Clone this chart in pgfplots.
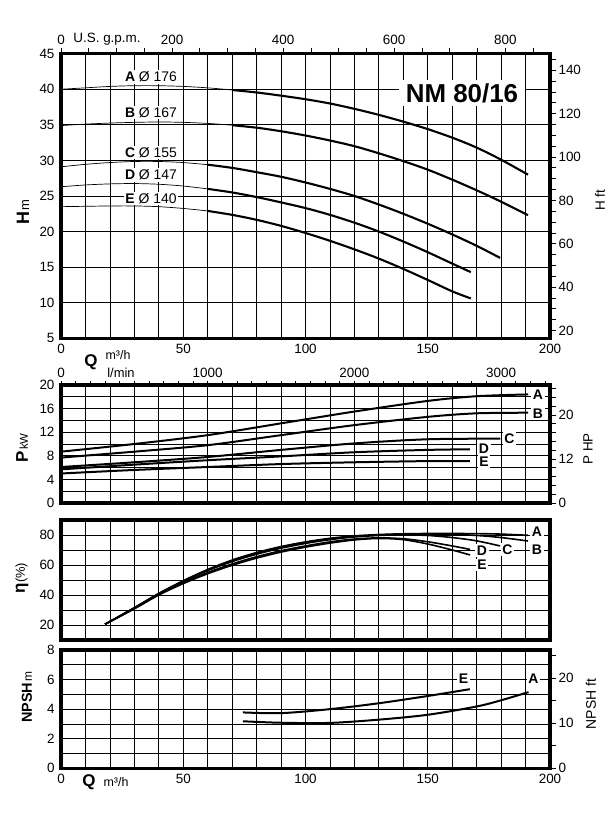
\documentclass[border=0pt]{standalone}
\usepackage{fontspec}
\setmainfont{Liberation Sans}
\usepackage{pgfplots}
\pgfplotsset{compat=1.18}
\newcommand{\fs}[1]{\fontsize{#1}{#1}\selectfont}
\tikzset{lab/.style={fill=white, inner sep=1.5bp, font=\fs{14}}}
\begin{document}
\begin{tikzpicture}[x=1bp,y=1bp]
\path[use as bounding box] (0,0) rectangle (614,829);
\coordinate (pH) at (61,490.7);
\coordinate (pP) at (61,326);
\coordinate (pE) at (61,189);
\coordinate (pN) at (61,60.7);
\pgfplotsset{
  base/.style={scale only axis, width=489bp, xmin=0, xmax=200, anchor=south west,
    scaled ticks=false, /pgf/number format/assume math mode=true,
    ticklabel style={font=\fs{13.5}}},
  main/.style={base, axis line style={line width=3.5bp}, xtick={0,10,...,200},
    grid=major, major grid style={black, line width=0.8bp}, major tick length=0pt,
    yticklabel style={xshift=-3bp}, xticklabel style={yshift=-2bp}},
  ov/.style={base, tick align=outside, major tick length=6bp, tick style={black, line width=0.8bp}},
  ovr/.style={ov, axis y line*=right, axis x line=none, yticklabel style={xshift=-1bp}},
  cv/.style={black, line width=2.1bp, smooth, mark=none},
  tn/.style={black, line width=0.7bp, smooth, mark=none},
  nox/.style={xticklabel style={text opacity=0, opacity=0}},
}
% ---------------- H panel
\begin{axis}[main, at={(pH)}, height=284.6bp, ymin=5, ymax=45, ytick={5,10,...,45},
  xticklabels={0,,,,,50,,,,,100,,,,,150,,,,,200}]
\addplot[tn] coordinates {(0,40.0)(10,40.2)(20,40.4)(30,40.5)(40,40.5)(50,40.4)(60,40.2)(70,39.9)};
\addplot[cv] coordinates {(70,39.9)(80,39.55)(90,39.1)(100,38.6)(110,38.0)(120,37.25)(130,36.4)(140,35.45)(150,34.4)(160,33.2)(170,31.8)(180,30.1)(191,28.0)};
\addplot[tn] coordinates {(0,34.9)(10,35.1)(20,35.25)(30,35.35)(40,35.4)(50,35.35)(60,35.2)(70,34.95)};
\addplot[cv] coordinates {(70,34.95)(80,34.6)(90,34.1)(100,33.5)(110,32.8)(120,32.0)(130,31.0)(140,29.9)(150,28.7)(160,27.3)(170,25.8)(180,24.2)(191,22.3)};
\addplot[tn] coordinates {(0,29.1)(10,29.45)(20,29.7)(30,29.85)(40,29.85)(50,29.7)(60,29.4)};
\addplot[cv] coordinates {(60,29.4)(70,28.95)(80,28.35)(90,27.7)(100,26.9)(110,26.0)(120,25.0)(130,23.8)(140,22.5)(150,21.1)(160,19.6)(170,18.0)(179.6,16.3)};
\addplot[tn] coordinates {(0,26.3)(10,26.55)(20,26.7)(30,26.75)(40,26.65)(50,26.4)(60,26.0)};
\addplot[cv] coordinates {(60,26.0)(70,25.5)(80,24.85)(90,24.1)(100,23.3)(110,22.35)(120,21.25)(130,20.0)(140,18.6)(150,17.1)(160,15.5)(167.6,14.3)};
\addplot[tn] coordinates {(0,23.5)(10,23.55)(20,23.6)(30,23.6)(40,23.5)(50,23.25)(60,22.9)};
\addplot[cv] coordinates {(60,22.9)(70,22.35)(80,21.65)(90,20.8)(100,19.8)(110,18.7)(120,17.5)(130,16.2)(140,14.75)(150,13.2)(160,11.6)(167.6,10.6)};
\end{axis}
\begin{axis}[ov, at={(pH)}, height=284.6bp, xmin=0, xmax=880.57, ymin=0, ymax=1,
  axis x line*=top, axis y line=none, xtick={0,50,...,850},
  xticklabels={0,,,,200,,,,400,,,,600,,,,800,}]
\end{axis}
\begin{axis}[ovr, at={(pH)}, height=284.6bp, ymin=16.404, ymax=147.64,
  ytick={20,25,...,145},
  yticklabels={20,,,,40,,,,60,,,,80,,,,100,,,,120,,,,140,}]
\end{axis}
% ---------------- P panel
\begin{axis}[main, nox, at={(pP)}, height=118bp, ymin=0, ymax=20, ytick={0,2,...,20},
  yticklabels={0,,4,,8,,12,,16,,20}]
\addplot[cv,line width=2bp] coordinates {(0,8.7)(30,10.0)(60,11.5)(90,13.5)(120,15.5)(150,17.3)(170,18.1)(191,18.4)};
\addplot[cv,line width=2bp] coordinates {(0,7.7)(30,8.7)(60,9.8)(90,11.5)(120,13.2)(150,14.6)(170,15.2)(191,15.3)};
\addplot[cv,line width=2bp] coordinates {(0,6.1)(30,6.9)(60,7.8)(90,9.0)(120,10.1)(150,10.8)(179.7,10.9)};
\addplot[cv,line width=2bp] coordinates {(0,5.7)(30,6.5)(60,7.25)(90,7.9)(120,8.6)(150,9.0)(167.2,9.1)};
\addplot[cv,line width=2bp] coordinates {(0,5.0)(30,5.6)(60,6.1)(90,6.6)(120,6.9)(150,7.1)(167.2,7.1)};
\end{axis}
\begin{axis}[ov, at={(pP)}, height=118bp, xmin=0, xmax=3333.33, ymin=0, ymax=1,
  axis x line*=top, axis y line=none, xtick={0,100,...,3300}, major tick length=4bp,
  xticklabels={0,,,,,,,,,,1000,,,,,,,,,,2000,,,,,,,,,,3000,,,}]
\end{axis}
\begin{axis}[ovr, at={(pP)}, height=118bp, ymin=0, ymax=26.82,
  ytick={0,2,...,26},
  yticklabels={0,,,,,12,,,,,20,,,}]
\end{axis}
% ---------------- eta panel
\begin{axis}[main, nox, at={(pE)}, height=120bp, ymin=10, ymax=90, ytick={10,20,...,90},
  yticklabels={,20,,40,,60,,80,}]
\addplot[cv,line width=1.6bp] coordinates {(18,20.5)(30,31.5)(40,41)(50,49.5)(60,57)(70,63.3)(80,68.3)(90,72.3)(100,75.4)(110,77.8)(120,79.4)(130,80.3)(140,80.8)(150,81)(160,81)(170,80.9)(180,80.6)(191,79.8)};
\addplot[cv,line width=1.6bp] coordinates {(18,20.5)(30,31.5)(40,41)(50,49.3)(60,56.7)(70,62.8)(80,67.8)(90,71.8)(100,75)(110,77.4)(120,79)(130,80)(140,80.5)(150,80.6)(160,80.4)(170,79.7)(180,78.3)(191,76)};
\addplot[cv,line width=1.6bp] coordinates {(18,20.5)(30,31.3)(40,40.8)(50,49)(60,56.3)(70,62.3)(80,67.2)(90,71.2)(100,74.4)(110,76.9)(120,78.7)(130,79.7)(140,80.1)(150,79.7)(160,78.3)(170,76.1)(179.6,72.7)};
\addplot[cv,line width=1.6bp] coordinates {(18,20.5)(30,31)(40,40.4)(50,48.2)(60,55)(70,60.7)(80,65.5)(90,69.5)(100,72.7)(110,75.4)(120,77.3)(130,78.1)(140,77.5)(150,75.5)(160,72.7)(167.3,70.4)};
\addplot[cv,line width=1.6bp] coordinates {(18,20.5)(30,30.8)(40,40)(50,47.6)(60,54.2)(70,59.8)(80,64.6)(90,68.6)(100,71.9)(110,74.6)(120,76.7)(130,77.7)(140,76.9)(150,74)(160,70)(167.3,66.7)};
\end{axis}
% ---------------- NPSH panel
\begin{axis}[main, at={(pN)}, height=118.3bp, ymin=0, ymax=8, ytick={0,1,...,8},
  yticklabels={0,,2,,4,,6,,8}, xticklabels={0,,,,,50,,,,,100,,,,,150,,,,,200}]
\addplot[cv,line width=2bp] coordinates {(74.4,3.78)(90,3.73)(110,4.0)(130,4.4)(150,4.89)(167.2,5.35)};
\addplot[cv,line width=2bp] coordinates {(74.4,3.18)(90,3.08)(110,3.07)(130,3.29)(150,3.62)(170,4.18)(180,4.6)(191.2,5.15)};
\end{axis}
\begin{axis}[ovr, at={(pN)}, height=118.3bp, ymin=0, ymax=26.25,
  ytick={0,5,...,25},
  yticklabels={0,,10,,20,}]
\end{axis}
% ---------------- texts
\node[font=\fs{13.5}] at (107,790) {U.S. g.p.m.};
\node[fill=white, inner xsep=7bp, inner ysep=3bp, font=\fs{26}\bfseries] at (462,736) {NM 80/16};
\node[lab] at (151,752) {\textbf{A} Ø 176};
\node[lab] at (151,716.3) {\textbf{B} Ø 167};
\node[lab] at (151,676.3) {\textbf{C} Ø 155};
\node[lab] at (151,654) {\textbf{D} Ø 147};
\node[lab] at (151,630.7) {\textbf{E} Ø 140};
\node[rotate=90] at (23,617) {{\fs{18}\bfseries H}\,{\fs{13}m}};
\node[rotate=90, font=\fs{13.5}] at (600,629) {H ft};
\node[font=\fs{17}\bfseries] at (91,467) {Q};
\node[font=\fs{12.5}] at (118,474) {m³/h};
\node[font=\fs{13}] at (121,456) {l/min};
\node[rotate=90] at (22,381) {{\fs{17}\bfseries P}\,{\fs{11.5}kW}};
\node[rotate=90, font=\fs{13.5}] at (588,380) {P HP};
\node[rotate=90] at (22,251) {{\fs{17}\bfseries η}{\fs{13}(\%)}};
\node[rotate=90] at (27,132) {{\fs{14.5}\bfseries NPSH}\,{\fs{12}m}};
\node[rotate=90, font=\fs{14}] at (591,125) {NPSH ft};
\node[font=\fs{17}\bfseries] at (89,47) {Q};
\node[font=\fs{12.5}] at (116,47) {m³/h};
% curve letters P
\node[lab, font=\fs{14}\bfseries] at (538,434) {A};
\node[lab, font=\fs{14}\bfseries] at (538,415.7) {B};
\node[lab, font=\fs{14}\bfseries] at (509.5,390.7) {C};
\node[lab, font=\fs{14}\bfseries] at (484,380.7) {D};
\node[lab, font=\fs{14}\bfseries] at (484,367.3) {E};
% eta letters
\node[lab, font=\fs{14}\bfseries] at (537,297.3) {A};
\node[lab, font=\fs{14}\bfseries] at (537,279) {B};
\node[lab, font=\fs{14}\bfseries] at (507.5,279.7) {C};
\node[lab, font=\fs{14}\bfseries] at (482,278.3) {D};
\node[lab, font=\fs{14}\bfseries] at (482,264) {E};
% NPSH letters
\node[lab, font=\fs{14}\bfseries] at (463.5,150) {E};
\node[lab, font=\fs{14}\bfseries] at (533.5,150) {A};
\end{tikzpicture}
\end{document}
